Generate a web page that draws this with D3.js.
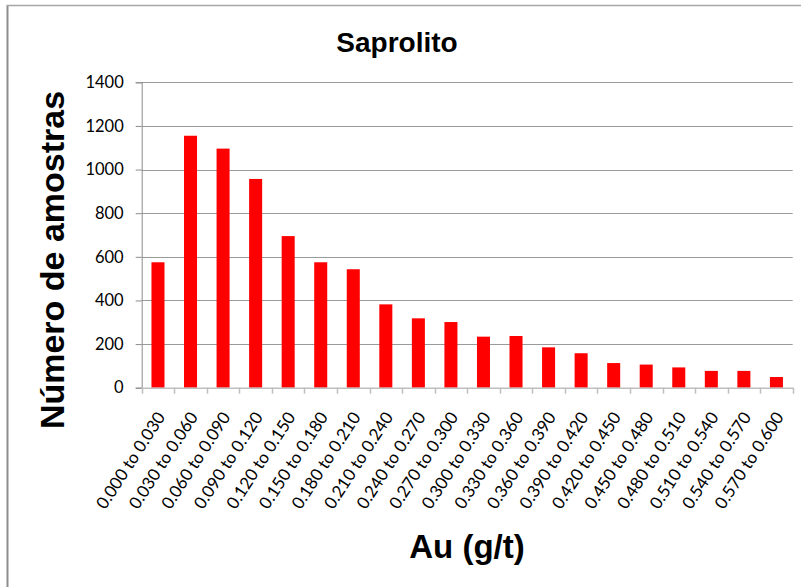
<!DOCTYPE html>
<html>
<head>
<meta charset="utf-8">
<script src="https://cdn.jsdelivr.net/npm/d3@7/dist/d3.min.js"></script>
<style>
  html, body { margin: 0; padding: 0; background: #fff; }
  svg { display: block; }
</style>
</head>
<body>
<svg id="chart" width="801" height="587"></svg>
<script>
// Gold grade classes (g/t) and sample counts per class
const categories = [
  "0.000 to 0.030", "0.030 to 0.060", "0.060 to 0.090", "0.090 to 0.120",
  "0.120 to 0.150", "0.150 to 0.180", "0.180 to 0.210", "0.210 to 0.240",
  "0.240 to 0.270", "0.270 to 0.300", "0.300 to 0.330", "0.330 to 0.360",
  "0.360 to 0.390", "0.390 to 0.420", "0.420 to 0.450", "0.450 to 0.480",
  "0.480 to 0.510", "0.510 to 0.540", "0.540 to 0.570", "0.570 to 0.600"
];
const counts = [575, 1155, 1096, 957, 695, 575, 543, 382, 318, 301,
                234, 237, 185, 158, 113, 106, 93, 77, 77, 49];
const yTicks = [0, 200, 400, 600, 800, 1000, 1200, 1400];

const titleText = "Saprolito";
const xTitle = "Au (g/t)";
const yTitle = "Número de amostras";

const svg = d3.select("#chart");
const W = 801, H = 587;
const plot = { left: 141.7, right: 792.7, top: 82.3, bottom: 387.7 };

// Outer chart frame (left and top edges)
svg.append("line")
  .attr("x1", 7.5).attr("x2", 7.5).attr("y1", 5).attr("y2", H)
  .attr("stroke", "#8c8c8c").attr("stroke-width", 2);
svg.append("line")
  .attr("x1", 7).attr("x2", W).attr("y1", 5.5).attr("y2", 5.5)
  .attr("stroke", "#a6a6a6").attr("stroke-width", 1.5);

const x = d3.scaleBand()
  .domain(categories)
  .range([plot.left, plot.right])
  .paddingInner(0.6)
  .paddingOuter(0.3);

const y = d3.scaleLinear()
  .domain([0, 1400])
  .range([plot.bottom, plot.top]);

// Horizontal gridlines
svg.append("g")
  .selectAll("line")
  .data(yTicks.filter(d => d > 0))
  .join("line")
  .attr("x1", plot.left).attr("x2", plot.right)
  .attr("y1", d => Math.round(y(d)) + 0.5).attr("y2", d => Math.round(y(d)) + 0.5)
  .attr("stroke", "#9a9a9a").attr("stroke-width", 1);

// Bars
svg.append("g")
  .selectAll("rect")
  .data(counts)
  .join("rect")
  .attr("x", (d, i) => x(categories[i]))
  .attr("width", x.bandwidth())
  .attr("y", d => y(d))
  .attr("height", d => y(0) - y(d))
  .attr("fill", "#ff0000");

// Y axis
const yAxis = svg.append("g")
  .attr("transform", `translate(${plot.left},0)`)
  .call(d3.axisLeft(y).tickValues(yTicks).tickSize(6).tickPadding(12).tickFormat(d3.format("d")));
yAxis.select(".domain").attr("stroke", "#8c8c8c");
yAxis.selectAll(".tick line").attr("stroke", "#8c8c8c");
yAxis.selectAll(".tick text")
  .attr("font-family", "Lato, 'Open Sans', sans-serif")
  .attr("font-size", 16.5)
  .attr("fill", "#000");

// X axis: boundary tick marks between classes
const boundaries = categories.map(c => x(c) - x.step() * x.paddingInner() / 2)
  .concat([plot.right]);
const xAxis = svg.append("g")
  .attr("transform", `translate(0,${plot.bottom})`)
  .call(d3.axisBottom(x).tickSize(0).tickPadding(0));
xAxis.select(".domain").attr("stroke", "#bfbfbf").attr("stroke-width", 1.5);
xAxis.append("g")
  .selectAll("line")
  .data(boundaries)
  .join("line")
  .attr("x1", d => Math.round(d) + 0.5).attr("x2", d => Math.round(d) + 0.5)
  .attr("y1", 0).attr("y2", 6)
  .attr("stroke", "#bfbfbf").attr("stroke-width", 1.5);
xAxis.selectAll(".tick text")
  .attr("font-family", "Lato, 'Open Sans', sans-serif")
  .attr("font-size", 17)
  .attr("fill", "#000")
  .attr("text-anchor", "end")
  .attr("y", null)
  .attr("dy", "0.35em")
  .attr("transform", `translate(3,26) rotate(-57)`);

// Titles
svg.append("text")
  .attr("x", 397).attr("y", 52)
  .attr("text-anchor", "middle")
  .attr("font-family", "'Liberation Sans', Arial, sans-serif")
  .attr("font-weight", "bold")
  .attr("font-size", 28)
  .attr("fill", "#000")
  .text(titleText);

svg.append("text")
  .attr("x", 467).attr("y", 558)
  .attr("text-anchor", "middle")
  .attr("font-family", "'Liberation Sans', Arial, sans-serif")
  .attr("font-weight", "bold")
  .attr("font-size", 33)
  .attr("fill", "#000")
  .text(xTitle);

svg.append("text")
  .attr("transform", "translate(64,260) rotate(-90)")
  .attr("text-anchor", "middle")
  .attr("font-family", "'Liberation Sans', Arial, sans-serif")
  .attr("font-weight", "bold")
  .attr("font-size", 34)
  .attr("fill", "#000")
  .text(yTitle);
</script>
</body>
</html>
